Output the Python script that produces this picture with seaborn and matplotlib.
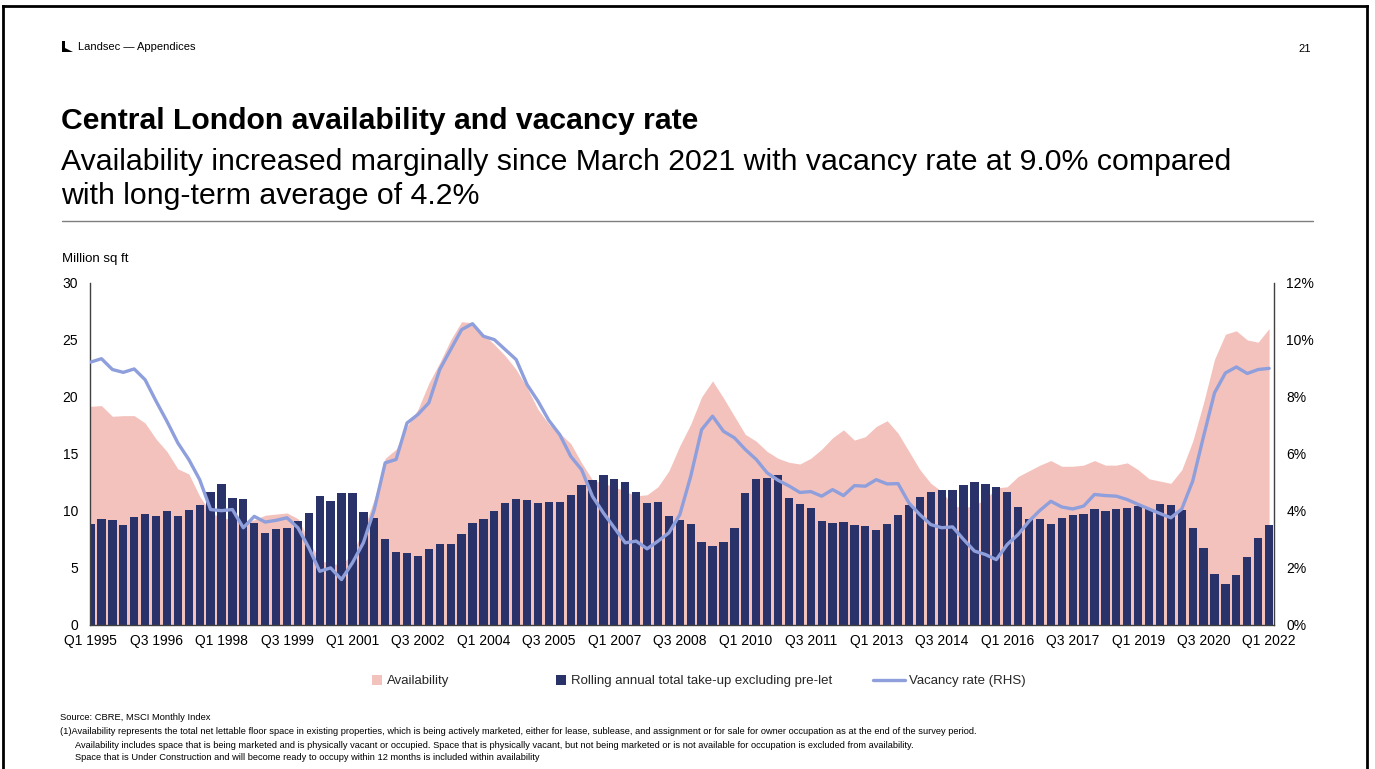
import numpy as np
import pandas as pd
import matplotlib
matplotlib.use("Agg")
import matplotlib.pyplot as plt
from matplotlib.patches import Patch, Polygon
from matplotlib.lines import Line2D
from matplotlib.ticker import FuncFormatter
import seaborn as sns

# ---------------------------------------------------------------- data
years = list(range(1995, 2023))
quarters = [f"Q{q} {y}" for y in years for q in (1, 2, 3, 4)][:109]

tick_labels = ["Q1 1995", "Q3 1996", "Q1 1998", "Q3 1999", "Q1 2001", "Q3 2002",
               "Q1 2004", "Q3 2005", "Q1 2007", "Q3 2008", "Q1 2010", "Q3 2011",
               "Q1 2013", "Q3 2014", "Q1 2016", "Q3 2017", "Q1 2019", "Q3 2020",
               "Q1 2022"]

# Availability, million sq ft
availability = [
    19.17, 19.23, 18.29, 18.35, 18.35, 17.70, 16.30, 15.20, 13.67, 13.23,
    11.27, 9.80, 9.40, 9.20, 9.00, 9.20, 9.60, 9.70, 9.80, 9.30,
    7.40, 5.60, 5.40, 5.20, 6.30, 8.30, 11.00, 14.60, 15.40, 17.40,
    18.90, 21.20, 23.00, 25.00, 26.60, 26.50, 25.50, 24.60, 23.60, 22.40,
    20.80, 18.90, 17.60, 16.80, 15.90, 14.20, 12.70, 12.40, 12.10, 11.70,
    11.30, 11.40, 12.10, 13.50, 15.70, 17.60, 20.00, 21.40, 19.90, 18.30,
    16.70, 16.10, 15.20, 14.60, 14.25, 14.10, 14.60, 15.40, 16.40, 17.10,
    16.20, 16.50, 17.40, 17.90, 16.80, 15.20, 13.60, 12.40, 11.70, 10.50,
    10.20, 10.50, 11.00, 12.00, 12.10, 13.00, 13.50, 14.00, 14.40, 13.90,
    13.90, 14.00, 14.40, 14.00, 14.00, 14.20, 13.60, 12.80, 12.60, 12.40,
    13.60, 16.10, 19.50, 23.30, 25.50, 25.80, 25.00, 24.80, 26.00,
]

# Rolling annual total take-up excluding pre-let, million sq ft
take_up = [
    8.87, 9.28, 9.16, 8.75, 9.48, 9.69, 9.51, 9.98, 9.54, 10.10,
    10.48, 11.62, 12.35, 11.12, 11.00, 8.96, 8.05, 8.37, 8.46, 9.10,
    9.77, 11.33, 10.89, 11.53, 11.53, 9.92, 9.37, 7.52, 6.38, 6.32,
    6.03, 6.64, 7.11, 7.11, 7.96, 8.90, 9.28, 10.00, 10.71, 11.03,
    10.92, 10.65, 10.80, 10.74, 11.36, 12.29, 12.67, 13.11, 12.79, 12.53,
    11.68, 10.71, 10.77, 9.54, 9.22, 8.81, 7.23, 6.91, 7.26, 8.49,
    11.59, 12.82, 12.91, 13.11, 11.15, 10.56, 10.21, 9.07, 8.90, 8.98,
    8.75, 8.69, 8.28, 8.81, 9.60, 10.51, 11.18, 11.65, 11.85, 11.79,
    12.29, 12.55, 12.35, 12.12, 11.65, 10.36, 9.31, 9.25, 8.87, 9.39,
    9.63, 9.72, 10.18, 10.01, 10.16, 10.24, 10.39, 10.13, 10.62, 10.48,
    10.07, 8.52, 6.73, 4.45, 3.57, 4.33, 5.94, 7.64, 8.75,
]

# Vacancy rate, % (right-hand scale)
vacancy = [
    9.22, 9.34, 8.96, 8.86, 8.98, 8.60, 7.85, 7.14, 6.38, 5.80,
    5.09, 4.04, 4.00, 4.04, 3.40, 3.80, 3.60, 3.66, 3.75, 3.40,
    2.70, 1.87, 1.99, 1.58, 2.17, 2.87, 4.04, 5.68, 5.80, 7.08,
    7.38, 7.79, 8.96, 9.66, 10.36, 10.57, 10.13, 10.01, 9.66, 9.31,
    8.43, 7.85, 7.17, 6.67, 5.91, 5.44, 4.50, 3.92, 3.40, 2.87,
    2.93, 2.66, 2.93, 3.22, 3.86, 5.21, 6.85, 7.32, 6.79, 6.56,
    6.15, 5.80, 5.33, 5.07, 4.87, 4.64, 4.67, 4.51, 4.74, 4.53,
    4.88, 4.86, 5.09, 4.94, 4.95, 4.27, 3.86, 3.51, 3.40, 3.43,
    2.99, 2.58, 2.46, 2.28, 2.81, 3.16, 3.63, 4.01, 4.33, 4.13,
    4.06, 4.16, 4.57, 4.53, 4.51, 4.39, 4.22, 4.06, 3.90, 3.75,
    4.06, 5.04, 6.62, 8.14, 8.84, 9.05, 8.82, 8.96, 9.00,
]

legend_labels = ["Availability",
                 "Rolling annual total take-up excluding pre-let",
                 "Vacancy rate (RHS)"]

footnotes = [
    "Source: CBRE, MSCI Monthly Index",
    "(1)Availability represents the total net lettable floor space in existing properties, "
    "which is being actively marketed, either for lease, sublease, and assignment or for "
    "sale for owner occupation as at the end of the survey period.",
    "Availability includes space that is being marketed and is physically vacant or occupied. "
    "Space that is physically vacant, but not being marketed or is not available for "
    "occupation is excluded from availability.",
    "Space that is Under Construction and will become ready to occupy within 12 months is "
    "included within availability",
]

# ---------------------------------------------------------------- style
PINK = "#F4C2BD"
NAVY = "#29336A"
LINE = "#8E9FDC"
SPINE = "#404040"

sns.set_theme(style="white")
plt.rcParams["font.family"] = ["Liberation Sans", "DejaVu Sans"]

W, H = 1375, 769
fig = plt.figure(figsize=(W / 100, H / 100), dpi=100)
fig.patch.set_facecolor("white")


def fx(px):
    return px / W


def fy(py):
    return 1 - py / H


# axes frame
ax = fig.add_axes([fx(90), fy(624.5), fx(1274 - 90), (624.5 - 283) / H])

df = pd.DataFrame({"quarter": quarters, "availability": availability,
                   "take_up": take_up, "vacancy": vacancy})
xpos = np.arange(len(quarters))

# availability area behind the bars
ax.fill_between(xpos, df["availability"], color=PINK, linewidth=0, zorder=1)

# take-up bars
sns.barplot(data=df, x="quarter", y="take_up", color=NAVY, saturation=1,
            width=0.76, edgecolor="none", ax=ax, zorder=2)
for p in ax.patches:
    p.set_zorder(2)

# vacancy rate on the secondary axis
ax2 = ax.twinx()
sns.lineplot(x=xpos, y=df["vacancy"], color=LINE, linewidth=2.4, ax=ax2)
for ln in ax2.lines:
    ln.set_solid_joinstyle("round")
    ln.set_solid_capstyle("round")

ax.set_xlim(-0.05, 108.45)
ax.set_ylim(0, 30)
ax2.set_ylim(0, 12)
ax.set_yticks(range(0, 31, 5))
ax2.set_yticks(range(0, 13, 2))
ax2.yaxis.set_major_formatter(FuncFormatter(lambda v, _: f"{v:.0f}%"))
ax.set_xticks(range(0, 109, 6))
ax.set_xticklabels(tick_labels)

for a in (ax, ax2):
    a.set_xlabel("")
    a.set_ylabel("")
    a.grid(False)
    a.set_facecolor("none")
    a.spines["top"].set_visible(False)
ax.spines["right"].set_visible(False)
ax2.spines["left"].set_visible(False)
ax2.spines["bottom"].set_visible(False)
for s in ("left", "bottom"):
    ax.spines[s].set_color(SPINE)
    ax.spines[s].set_linewidth(1.0)
ax2.spines["right"].set_color(SPINE)
ax2.spines["right"].set_linewidth(1.0)
ax.spines["bottom"].set_zorder(5)

ax.tick_params(axis="x", length=0, pad=7, labelsize=10, labelcolor="black")
ax.tick_params(axis="y", length=0, pad=8.5, labelsize=10, labelcolor="black")
ax2.tick_params(axis="y", length=0, pad=9, labelsize=10, labelcolor="black")

# ---------------------------------------------------------------- legend
handles = [Patch(facecolor=PINK, edgecolor="none"),
           Patch(facecolor=NAVY, edgecolor="none"),
           Line2D([], [], color=LINE, linewidth=2.4)]
for h, lab, xp, hl in zip(handles, legend_labels, (372, 556, 873), (0.78, 0.78, 2.4)):
    fig.legend(handles=[h], labels=[lab], loc="center left",
               bbox_to_anchor=(fx(xp), fy(681)), frameon=False, borderpad=0,
               borderaxespad=0, handlelength=hl, handleheight=0.85,
               handletextpad=0.35, fontsize=9.5)

# ---------------------------------------------------------------- slide text
fig.add_artist(Polygon([(fx(62), fy(41)), (fx(65), fy(41)), (fx(65), fy(48)),
                        (fx(73), fy(52)), (fx(62), fy(52))],
                       closed=True, transform=fig.transFigure,
                       facecolor="black", edgecolor="none"))
fig.text(fx(78), fy(47.5), "Landsec \u2014 Appendices", fontsize=8,
         va="center", ha="left", color="black")
fig.text(fx(1311), fy(48.5), "21", fontsize=8, va="center", ha="right", color="black")

fig.text(fx(61), fy(121), "Central London availability and vacancy rate",
         fontsize=21.7, fontweight="bold", va="center", ha="left", color="black")
fig.text(fx(61), fy(162), "Availability increased marginally since March 2021 "
         "with vacancy rate at 9.0% compared", fontsize=21.8, va="center", ha="left",
         color="black")
fig.text(fx(61), fy(196), "with long-term average of 4.2%", fontsize=21.8,
         va="center", ha="left", color="black")
fig.add_artist(Line2D([fx(62), fx(1313)], [fy(220.5), fy(220.5)],
                      transform=fig.transFigure, color="#7F7F7F", linewidth=1.0))

fig.text(fx(62), fy(259), "Million sq ft", fontsize=9.5, va="center", ha="left",
         color="black")

# footnotes, scaled to the slide's text block widths
renderer = fig.canvas.get_renderer()
foot_specs = [(60, 718, 213), (60, 732, 990), (75, 745, 925), (75, 757, 545)]
for txt, (x0, y0, x1) in zip(footnotes, foot_specs):
    t = fig.text(fx(x0), fy(y0), txt, fontsize=6, va="center", ha="left", color="black")
    w = t.get_window_extent(renderer).width
    t.set_fontsize(6 * (x1 - x0) / w)

# slide border
for xs, ys in (([3, 3], [6, 769]), ([3, 1367], [6, 6]), ([1367, 1367], [6, 769])):
    fig.add_artist(Line2D([fx(v) for v in xs], [fy(v) for v in ys],
                          transform=fig.transFigure, color="black", linewidth=2.0,
                          solid_capstyle="projecting"))

fig.savefig("out.png", dpi=100, facecolor="white")
